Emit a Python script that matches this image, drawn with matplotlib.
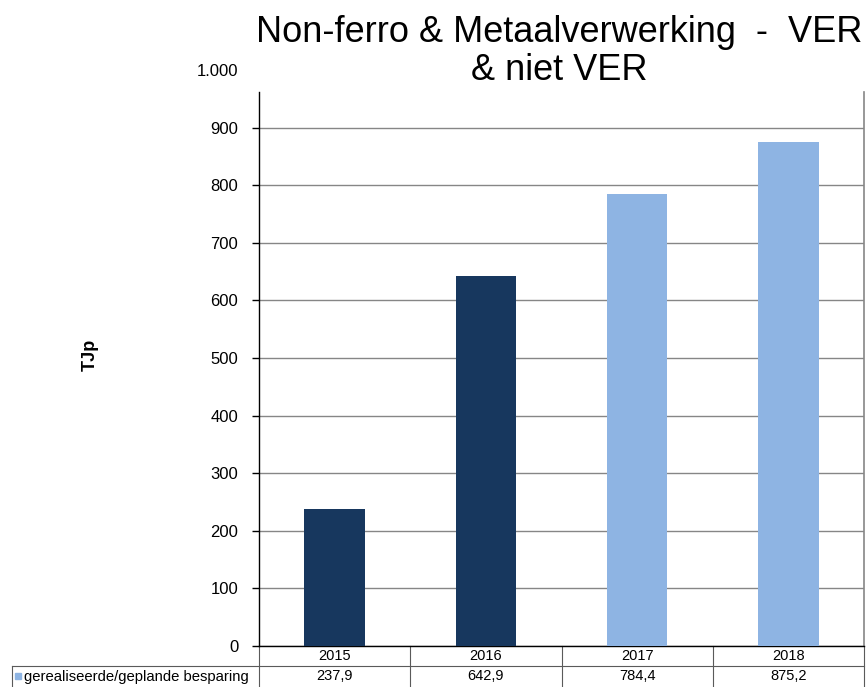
import matplotlib
matplotlib.use('Agg')
import matplotlib.pyplot as plt
import matplotlib.transforms as mtransforms

plt.rcParams['font.family'] = ['Liberation Sans', 'DejaVu Sans']

years = ['2015', '2016', '2017', '2018']
values = [237.9, 642.9, 784.4, 875.2]
colors = ['#17375E', '#17375E', '#8EB4E3', '#8EB4E3']
series_name = 'gerealiseerde/geplande besparing'
title = 'Non-ferro & Metaalverwerking  -  VER\n& niet VER'
yticks = [0, 100, 200, 300, 400, 500, 600, 700, 800, 900, 1000]

W, H = 866, 687
fig = plt.figure(figsize=(W / 100, H / 100), dpi=100)
ax = fig.add_axes([259 / W, 41 / H, 605 / W, 576 / H])

x = list(range(len(years)))
ax.bar(x, values, width=0.4, color=colors, zorder=3)
ax.set_xlim(-0.5, len(years) - 0.5)
ax.set_ylim(0, 1000)

ax.set_yticks(yticks)
ax.set_yticklabels([f'{v:,}'.replace(',', '.') for v in yticks], fontsize=12)
ax.tick_params(axis='y', length=5, width=1, pad=10, color='black')
ax.set_xticks([])
ax.yaxis.grid(True, color='#868686', linewidth=1, zorder=0)
last = ax.yaxis.get_major_ticks()[-1]
last.tick1line.set_visible(False)
last.gridline.set_visible(False)

ax.spines['top'].set_visible(False)
ax.spines['left'].set_bounds(0, 962)
ax.spines['right'].set_bounds(0, 962)
ax.spines['right'].set_color('#868686')
ax.spines['right'].set_linewidth(1.2)
ax.spines['left'].set_linewidth(1)
ax.spines['bottom'].set_linewidth(1)

# data table under the plot
trans = mtransforms.blended_transform_factory(ax.transData, ax.transAxes)
r1 = -20 / 576
r2 = -41 / 576
lc = '#5a5a5a'
n = len(years)
ax.plot([-0.5, n - 0.5], [r1, r1], transform=trans, color=lc, lw=0.8, clip_on=False)
for i in range(n + 1):
    ax.plot([i - 0.5, i - 0.5], [0, r2], transform=trans, color=lc, lw=0.8, clip_on=False)
left_edge = -0.5 - 247 / 605 * n
ax.plot([left_edge, -0.5], [r1, r1], transform=trans, color=lc, lw=0.8, clip_on=False)
ax.plot([left_edge, left_edge], [r1, r2], transform=trans, color=lc, lw=0.8, clip_on=False)
for i in range(n):
    ax.text(i, (0 + r1) / 2, years[i], transform=trans, ha='center', va='center', fontsize=10.5)
    ax.text(i, (r1 + r2) / 2, f'{values[i]:.1f}'.replace('.', ','), transform=trans,
            ha='center', va='center', fontsize=10.5)
ax.plot([left_edge + 0.04], [(r1 + r2) / 2 + 0.001], transform=trans, marker='s', ms=5,
        color=colors[-1], clip_on=False)
ax.text(left_edge + 0.08, (r1 + r2) / 2, series_name, transform=trans,
        ha='left', va='center', fontsize=10.7)

fig.text(90 / W, 1 - 355 / H, 'TJp', rotation=90, ha='center', va='center',
         fontsize=13, fontweight='bold')
fig.text(559 / W, 1 - 15 / H, title, ha='center', va='top', fontsize=26, linespacing=1.1)

fig.savefig('out.png', dpi=100)
